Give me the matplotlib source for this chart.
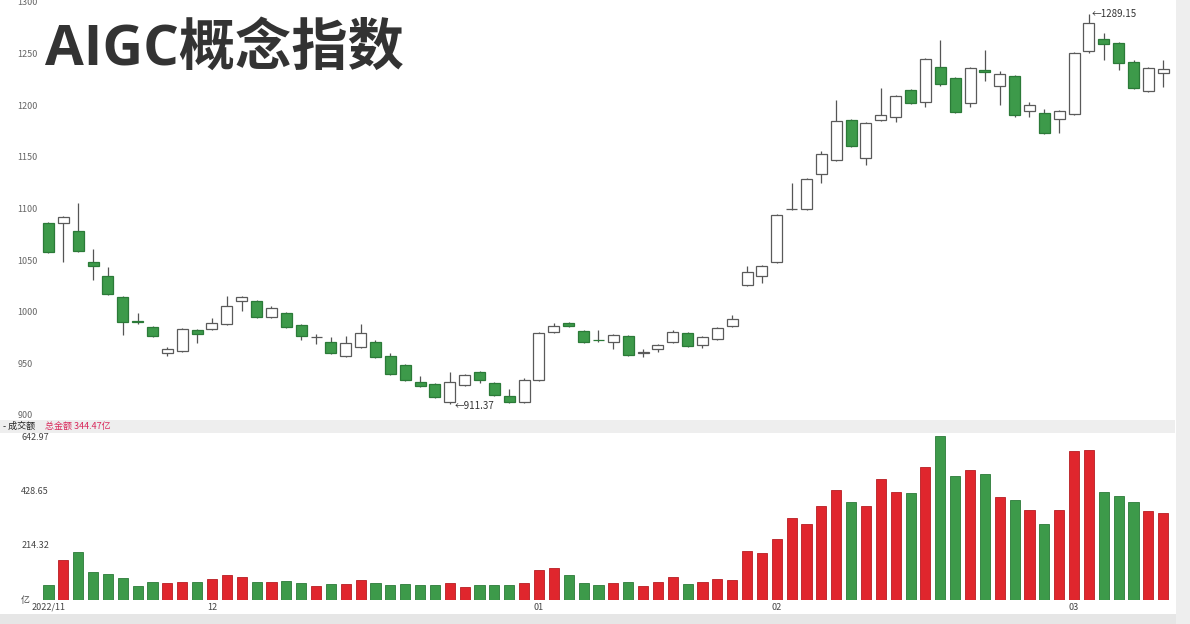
import matplotlib
matplotlib.use("Agg")
import matplotlib.pyplot as plt
import numpy as np

plt.rcParams['font.family'] = ['Noto Sans CJK SC', 'DejaVu Sans']

# daily candles, AIGC concept index
opens = [1087, 1087, 1079, 1049, 1035, 1015, 991.5, 986, 961, 963,
         983, 984, 989, 1011, 1011, 996, 1000, 988, 976, 972,
         958, 967, 972, 958, 949, 933, 931, 913, 930, 942,
         932, 919, 913, 935, 981, 990, 982, 973.5, 972, 977,
         961, 965, 972, 980, 969, 974, 987, 1027, 1035, 1049,
         1100, 1100, 1134, 1148, 1187, 1150, 1187, 1190, 1216, 1204,
         1238, 1227, 1203, 1235, 1220, 1229, 1195, 1193, 1188, 1192,
         1253.5, 1265, 1261, 1242.5, 1215, 1232.5]
closes = [1059, 1093, 1060, 1045, 1018, 991, 991, 977, 965, 984,
          979, 990, 1006, 1015.5, 996, 1004, 986, 977, 976.5, 961,
          971, 980, 957, 941, 935, 929, 918, 933, 940, 935,
          920, 913, 935, 980, 987, 987, 972, 973, 978, 959,
          961.5, 969, 981, 968, 976, 985, 994, 1039, 1045, 1095,
          1100.5, 1129, 1154, 1186, 1161, 1184, 1191.5, 1210, 1203, 1246,
          1221.5, 1194, 1237, 1233, 1231, 1191, 1201, 1174, 1195, 1252,
          1281, 1260, 1242, 1218, 1237, 1236]
highs = [1088, 1094, 1106, 1062, 1044, 1016, 1000, 987, 967, 985,
         984, 995, 1016, 1016, 1012, 1006, 1001, 989, 979, 976,
         977, 989, 973, 961, 950, 939, 932, 942, 941, 943,
         933, 926, 937, 981, 990, 991, 983, 983, 979, 978,
         965, 970, 983, 981, 977, 986, 998, 1045, 1046, 1096,
         1126, 1130, 1157, 1206, 1188, 1185, 1218, 1211, 1217, 1247,
         1264, 1228, 1238, 1254, 1234, 1230, 1204, 1197, 1196, 1253,
         1289.15, 1271, 1262, 1245, 1238, 1245]
lows = [1058, 1049, 1059, 1032, 1017, 978, 989, 976, 958, 962,
        971, 983, 988, 1002, 995, 995, 985, 973, 970, 960,
        957, 966, 956, 940, 934, 928, 917, 911.37, 929, 932,
        919, 912, 912, 934, 980, 986, 971, 972, 965, 958,
        957, 962, 971, 967, 966, 973, 986, 1026, 1029, 1048,
        1099, 1099, 1126, 1147, 1160, 1143, 1186, 1185, 1202, 1199,
        1220, 1193, 1199, 1224, 1201, 1190, 1190, 1173, 1174, 1191,
        1252, 1245, 1235, 1217, 1214, 1219]

# turnover, 亿
volume = [60, 159, 189, 110, 103, 86, 56, 73, 66, 72,
          72, 82, 98, 90, 70, 70, 77, 66, 56, 62,
          64, 79, 68, 60, 62, 60, 60, 68, 52, 60,
          60, 60, 68, 119, 127, 100, 68, 60, 68, 72,
          56, 72, 91, 64, 72, 83, 79, 194, 187, 242,
          325, 302, 373, 437, 389, 373, 480, 429, 425, 528,
          651, 492, 516, 500, 409, 397, 357, 302, 357, 591,
          595, 429, 413, 389, 353, 345]

price_ticks = [900, 950, 1000, 1050, 1100, 1150, 1200, 1250, 1300]
vol_ticks = [0, 214.32, 428.65, 642.97]
vol_tick_labels = ['亿', '214.32', '428.65', '642.97']
month_idx = [0, 11, 33, 49, 69]
month_labels = ['2022/11', '12', '01', '02', '03']

W, H = 1190, 624
fig = plt.figure(figsize=(W / 100, H / 100), dpi=100)
fig.patch.set_facecolor('white')

def px_axes(left, top, right, bottom):
    return fig.add_axes([left / W, 1 - bottom / H, (right - left) / W, (bottom - top) / H])

GREEN = '#3d9a4a'
GREEN_EDGE = '#2b7a38'
RED = '#e0262d'
RED_EDGE = '#b81c22'

x = np.arange(len(opens))
o = np.array(opens)
c = np.array(closes)
up = c >= o
xlim = (-3.263, 75.79)

# --- price panel ---
ax = px_axes(0, 0, 1175, 418)
ax.set_xlim(*xlim)
ax.set_ylim(897.9, 1302.9)
ax.vlines(x, lows, highs, color='#555555', linewidth=0.9, zorder=1)
body_bottom = np.minimum(o, c)
body_h = np.maximum(np.abs(c - o), 0.6)
ax.bar(x[up], body_h[up], bottom=body_bottom[up], width=0.74,
       color='white', edgecolor='#5a5a5a', linewidth=0.9, zorder=2)
ax.bar(x[~up], body_h[~up], bottom=body_bottom[~up], width=0.74,
       color=GREEN, edgecolor=GREEN_EDGE, linewidth=0.9, zorder=2)
for v in price_ticks:
    ax.text(0.015, v, str(v), transform=ax.get_yaxis_transform(),
            fontsize=6.5, color='#666666', va='center', ha='left')
lo_i = int(np.argmin(lows))
hi_i = int(np.argmax(highs))
ax.text(lo_i + 0.3, lows[lo_i] - 1.5, '←911.37', fontsize=7, color='#333333', va='center')
ax.text(hi_i + 0.2, highs[hi_i], '←1289.15', fontsize=7, color='#333333', va='center')
ax.axis('off')

# band between panels
band = px_axes(0, 420, 1175, 433)
band.set_facecolor('#eeeeee')
band.set_xticks([])
band.set_yticks([])
for s in band.spines.values():
    s.set_visible(False)
band.text(3 / 1175, 0.5, '- 成交额', fontsize=6.5, color='#222222', va='center',
          transform=band.transAxes)
band.text(45 / 1175, 0.5, '总金额 344.47亿', fontsize=6.5, color='#d8285a', va='center',
          transform=band.transAxes)

# --- volume panel ---
axv = px_axes(0, 434, 1175, 600)
axv.set_xlim(*xlim)
axv.set_ylim(0, 658.8)
vol = np.array(volume)
axv.bar(x[up], vol[up], width=0.68, color=RED, edgecolor=RED_EDGE, linewidth=0.6)
axv.bar(x[~up], vol[~up], width=0.68, color=GREEN, edgecolor=GREEN_EDGE, linewidth=0.6)
for v, lab in zip(vol_ticks, vol_tick_labels):
    axv.text(0.018, v, lab, transform=axv.get_yaxis_transform(),
             fontsize=6.5, color='#444444', va='center', ha='left')
for i, lab in zip(month_idx, month_labels):
    axv.text(i, -0.045, lab, transform=axv.get_xaxis_transform(),
             fontsize=6.5, color='#444444', va='center', ha='center')
axv.axis('off')

# frame strips of the screenshot
strip = px_axes(0, 614, 1190, 624)
strip.add_patch(plt.Rectangle((0, 0), 1, 1, transform=strip.transAxes, color='#e6e6e6'))
strip.axis('off')
right = px_axes(1176, 0, 1190, 624)
right.add_patch(plt.Rectangle((0, 0), 1, 1, transform=right.transAxes, color='#eeeeee'))
right.axis('off')

fig.text(45 / W, 1 - 50 / H, 'AIGC概念指数', fontsize=40.5, fontweight='bold',
         family=['Open Sans', 'Noto Sans CJK SC'],
         color='#333333', va='center', ha='left')

fig.savefig('out.png', dpi=100, facecolor='white')
